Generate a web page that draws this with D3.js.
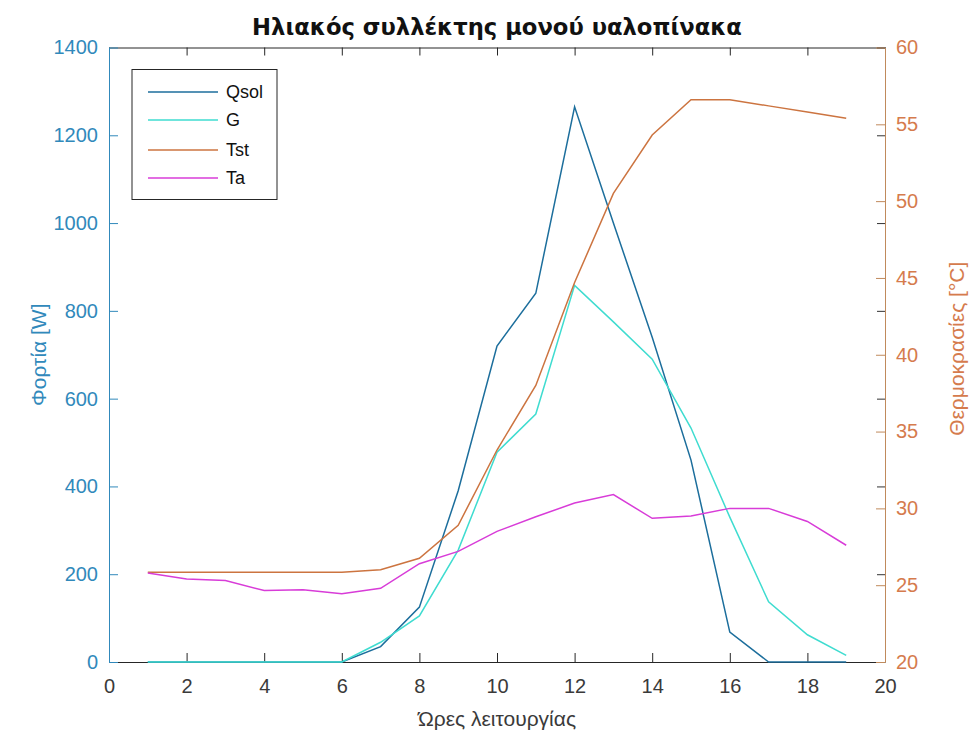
<!DOCTYPE html>
<html><head><meta charset="utf-8">
<script src="https://cdn.jsdelivr.net/npm/d3@7"></script>
<style>body{margin:0;background:#fff}svg{display:block}</style>
</head><body>
<svg id="chart" width="971" height="737"></svg>
<script>
const hours = [1,2,3,4,5,6,7,8,9,10,11,12,13,14,15,16,17,18,19];
const qsol = [0,0,0,0,0,0,35,125,390,720,840,1265,1000,740,460,68,0,0,0];
const gRad = [0,0,0,0,0,0,45,105,255,478,565,858,775,690,533,330,137,62,15];
const tst = [25.85,25.85,25.85,25.85,25.85,25.85,26.0,26.75,28.9,33.8,38.0,44.7,50.5,54.3,56.6,56.6,56.2,55.8,55.4];
const ta = [25.8,25.4,25.3,24.65,24.7,24.45,24.8,26.4,27.2,28.5,29.45,30.35,30.9,29.35,29.5,30.0,30.0,29.15,27.6];
const xTicks = [0,2,4,6,8,10,12,14,16,18,20];
const yLeftTicks = [0,200,400,600,800,1000,1200,1400];
const yRightTicks = [20,25,30,35,40,45,50,55,60];
const seriesNames = ["Qsol","G","Tst","Ta"];
const titleText = "Ηλιακός συλλέκτης μονού υαλοπίνακα";
const xLabel = "Ώρες λειτουργίας";
const yLeftLabel = "Φορτία [W]";
const yRightLabel = "Θερμοκρασίες [°C]";

const colors = {Qsol:"#1c6e9c", G:"#3fdcd0", Tst:"#cc7440", Ta:"#d83cd8"};
const leftColor = "#3189bb", rightColor = "#d57b4d", rightAxisColor = "#c08a5c";
const L = 109, R = 885, T = 47.5, B = 662;
const font = "'Liberation Sans', Arial, sans-serif";

const svg = d3.select("#chart");
const x = d3.scaleLinear().domain([0,20]).range([L,R]);
const yL = d3.scaleLinear().domain([0,1400]).range([B,T]);
const yR = d3.scaleLinear().domain([20,60]).range([B,T]);
const fmt = d3.format("d");

function style(g, color, size){
  g.select(".domain").attr("stroke", color).attr("stroke-width",1);
  g.selectAll(".tick line").attr("stroke", color).attr("stroke-width",1);
  g.selectAll("text").attr("fill", color).style("font-family", font).style("font-size", size+"px");
}

// top mirrored
const gTop = svg.append("g").attr("transform",`translate(0,${T})`)
  .call(d3.axisTop(x).tickValues(xTicks).tickSizeInner(-8).tickSizeOuter(0).tickFormat(""));
style(gTop,"#262626",18);
// bottom
const gBot = svg.append("g").attr("transform",`translate(0,${B})`)
  .call(d3.axisBottom(x).tickValues(xTicks).tickFormat(fmt).tickSizeInner(-9).tickSizeOuter(0).tickPadding(17));
style(gBot,"#262626",20);
gBot.selectAll("text").attr("fill","#3a3a3a");
// right mirrored left ticks
const gRM = svg.append("g").attr("transform",`translate(${R},0)`)
  .call(d3.axisRight(yL).tickValues(yLeftTicks).tickSizeInner(-8).tickSizeOuter(0).tickFormat(""));
style(gRM,"#333",18);
gRM.select(".domain").remove();
// right axis
const gRight = svg.append("g").attr("transform",`translate(${R},0)`)
  .call(d3.axisRight(yR).tickValues(yRightTicks).tickFormat(fmt).tickSizeInner(-9).tickSizeOuter(0).tickPadding(11));
style(gRight,rightAxisColor,20);
gRight.selectAll("text").attr("fill",rightColor);
// left axis
const gLeft = svg.append("g").attr("transform",`translate(${L},0)`)
  .call(d3.axisLeft(yL).tickValues(yLeftTicks).tickFormat(fmt).tickSizeInner(-9).tickSizeOuter(0).tickPadding(11));
style(gLeft,leftColor,20);

// lines
const lineL = d3.line().x((d,i)=>x(hours[i])).y(d=>yL(d));
const lineR = d3.line().x((d,i)=>x(hours[i])).y(d=>yR(d));
const plot = svg.append("g");
plot.append("path").datum(qsol).attr("d",lineL).attr("fill","none").attr("stroke",colors.Qsol).attr("stroke-width",1.5);
plot.append("path").datum(gRad).attr("d",lineL).attr("fill","none").attr("stroke",colors.G).attr("stroke-width",1.5);
plot.append("path").datum(tst).attr("d",lineR).attr("fill","none").attr("stroke",colors.Tst).attr("stroke-width",1.5);
plot.append("path").datum(ta).attr("d",lineR).attr("fill","none").attr("stroke",colors.Ta).attr("stroke-width",1.5);

// legend
const lg = svg.append("g");
lg.append("rect").attr("x",132).attr("y",69.5).attr("width",145).attr("height",130)
  .attr("fill","#fff").attr("stroke","#262626").attr("stroke-width",1);
const rowsY = [92,120,150,178];
seriesNames.forEach((n,i)=>{
  lg.append("line").attr("x1",148).attr("x2",218).attr("y1",rowsY[i]).attr("y2",rowsY[i])
    .attr("stroke",colors[n]).attr("stroke-width",1.5);
  lg.append("text").attr("x",226).attr("y",rowsY[i]).attr("dy","0.35em").text(n)
    .style("font-family",font).style("font-size","18px").attr("fill","#111");
});

// title
const title = svg.append("text").attr("x",(L+R)/2).attr("y",35).attr("text-anchor","middle")
  .text(titleText).style("font-family","'DejaVu Sans', sans-serif").style("font-weight","bold")
  .style("font-size","18px").attr("fill","#111");
const tw = title.node().getComputedTextLength();
title.style("font-size", (18*490/tw).toFixed(2)+"px");

// axis labels
svg.append("text").attr("x",(L+R)/2).attr("y",726).attr("text-anchor","middle").text(xLabel)
  .style("font-family",font).style("font-size","21px").attr("fill","#3a3a3a");
svg.append("text").attr("transform",`translate(46,${(T+B)/2}) rotate(-90)`).attr("text-anchor","middle").text(yLeftLabel)
  .style("font-family",font).style("font-size","21px").attr("fill",leftColor);
svg.append("text").attr("transform",`translate(964,${(T+B)/2 - 6}) rotate(-90)`).attr("text-anchor","middle").text(yRightLabel)
  .style("font-family",font).style("font-size","21px").attr("fill",rightColor);
</script>
</body></html>
